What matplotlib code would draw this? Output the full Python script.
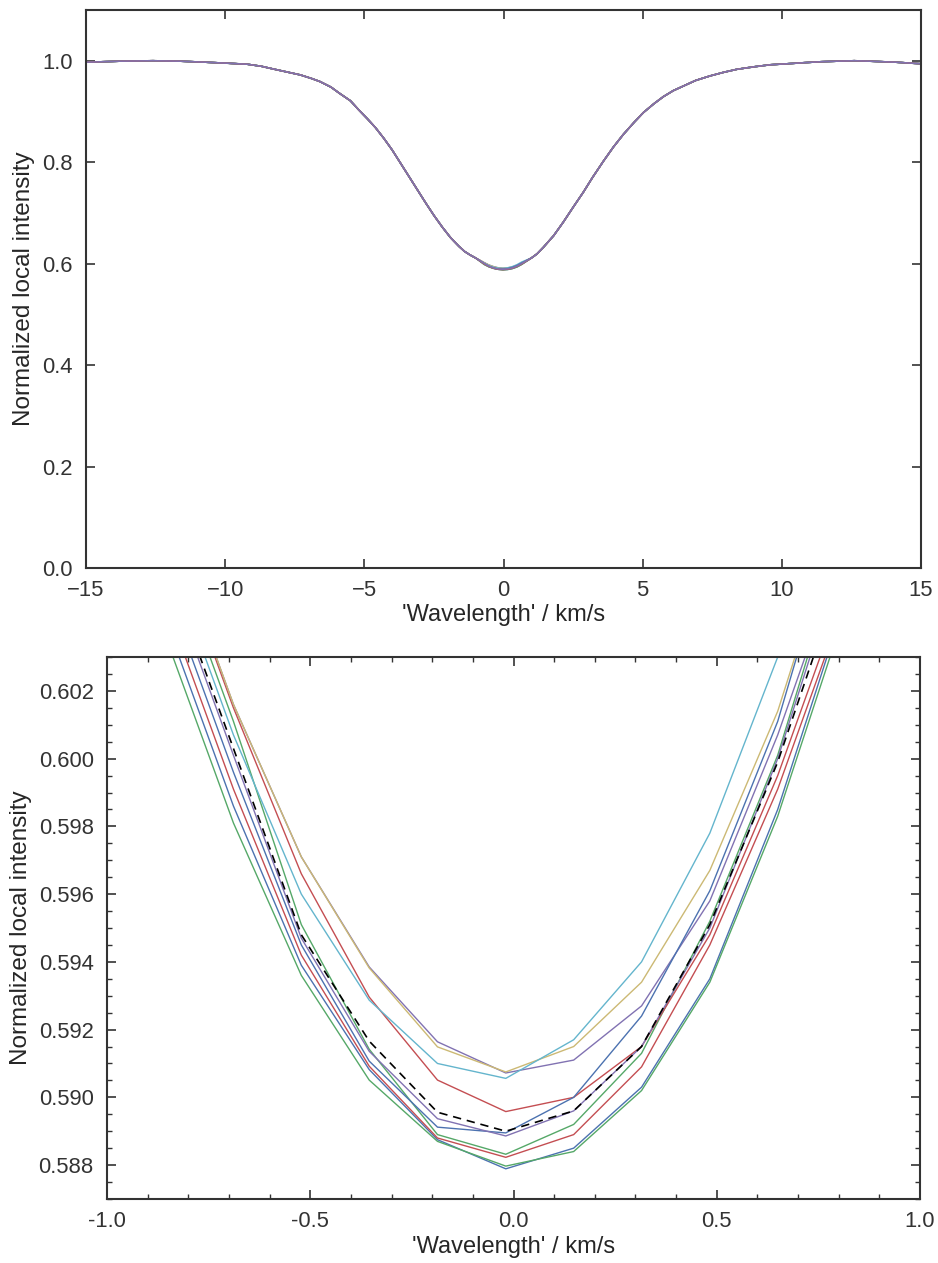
"""Local intensity line profiles: full profile (top) and zoom on the core (bottom)."""

import matplotlib

matplotlib.use("Agg")
import matplotlib.pyplot as plt
from matplotlib.ticker import FormatStrFormatter, MultipleLocator

# seaborn "deep" palette (old)
COLORS = ["#4C72B0", "#55A868", "#C44E52", "#8172B2", "#CCB974", "#64B5CD",
          "#4C72B0", "#55A868", "#C44E52", "#8172B2"]

# velocity grid of the line core (km/s)
x_core = [-0.856, -0.689, -0.522, -0.355, -0.187, -0.019, 0.148, 0.315, 0.483, 0.650, 0.817]

# core intensities for each of the ten profiles
core_profiles = [
    [0.6041, 0.5986, 0.5939, 0.59082, 0.58875, 0.58789, 0.5885, 0.5903, 0.5935, 0.5985, 0.6047],  # blue
    [0.6066, 0.6011, 0.5951, 0.59142, 0.58890, 0.58832, 0.5892, 0.5913, 0.5952, 0.6001, 0.6067],  # green
    [0.6070, 0.6015, 0.5966, 0.59296, 0.59051, 0.58958, 0.5900, 0.5915, 0.5948, 0.5995, 0.6051],  # red
    [0.6071, 0.6016, 0.5971, 0.59385, 0.59164, 0.59072, 0.5911, 0.5927, 0.5958, 0.6007, 0.6064],  # purple
    [0.6071, 0.6016, 0.5971, 0.59382, 0.59149, 0.59075, 0.5915, 0.5934, 0.5967, 0.6014, 0.6077],  # yellow
    [0.6062, 0.6007, 0.5960, 0.59287, 0.59100, 0.59056, 0.5917, 0.5940, 0.5978, 0.6030, 0.6092],  # cyan
    [0.6051, 0.5996, 0.5945, 0.59107, 0.58912, 0.58895, 0.5900, 0.5924, 0.5961, 0.6011, 0.6079],  # blue
    [0.6036, 0.5981, 0.5936, 0.59051, 0.58870, 0.58797, 0.5884, 0.5902, 0.5934, 0.5983, 0.6044],  # green
    [0.6046, 0.5991, 0.5942, 0.59092, 0.58880, 0.58823, 0.5889, 0.5909, 0.5945, 0.5991, 0.6047],  # red
    [0.6056, 0.6001, 0.5947, 0.59136, 0.58937, 0.58886, 0.5896, 0.5915, 0.5950, 0.6000, 0.6063],  # purple
]

# reference profile (black dashed)
core_reference = [0.6058, 0.6003, 0.5948, 0.59166, 0.58956, 0.58900, 0.5896, 0.5915, 0.5951, 0.5999, 0.6058]

# line wings, shared by all profiles
x_wing_left = [-15.0, -13.8, -12.6, -11.6, -10.7, -9.9, -9.2, -8.7, -8.3, -7.8, -7.3, -6.9, -6.6,
               -6.2, -5.9, -5.5, -5.2, -4.9, -4.6, -4.3, -4.0, -3.7, -3.4, -3.1, -2.8, -2.5,
               -2.2, -1.9, -1.6, -1.4, -1.2, -1.0]
wing_left = [0.997, 0.999, 1.000, 0.999, 0.997, 0.995, 0.993, 0.989, 0.984, 0.978, 0.972, 0.965, 0.959,
             0.948, 0.936, 0.921, 0.903, 0.886, 0.868, 0.847, 0.824, 0.798, 0.772, 0.746, 0.720, 0.695,
             0.672, 0.651, 0.634, 0.624, 0.617, 0.611]
x_wing_right = [1.0, 1.2, 1.43, 1.8, 2.15, 2.5, 2.87, 3.2, 3.59, 3.95, 4.31, 4.7, 5.03, 5.4, 5.74,
                6.1, 6.46, 6.9, 7.42, 7.9, 8.38, 9.0, 9.58, 10.2, 10.77, 11.4, 11.97, 12.6, 13.17,
                14.1, 15.0]
wing_right = [0.611, 0.619, 0.632, 0.655, 0.682, 0.711, 0.741, 0.770, 0.802, 0.830, 0.855, 0.879, 0.898,
              0.915, 0.929, 0.941, 0.950, 0.961, 0.970, 0.977, 0.983, 0.988, 0.992, 0.994, 0.996, 0.998,
              0.999, 1.000, 0.999, 0.997, 0.994]

plt.rcParams.update({
    "font.family": ["Liberation Sans", "DejaVu Sans"],
    "font.size": 15.5,
    "axes.edgecolor": "#333333",
    "axes.linewidth": 1.5,
    "xtick.color": "#333333",
    "ytick.color": "#333333",
    "text.color": "#262626",
    "axes.labelcolor": "#262626",
})


def style_axis(ax, minor=False):
    ax.tick_params(which="major", direction="in", length=6.5, width=1.2,
                   top=True, right=True, labelsize=15.8)
    ax.tick_params(axis="x", which="major", pad=8.5)
    ax.tick_params(axis="y", which="major", pad=9.5)
    if minor:
        ax.tick_params(which="minor", direction="in", length=3.5, width=1.0,
                       top=True, right=True)


fig = plt.figure(figsize=(9.38, 12.63), dpi=100)
ax_top = fig.add_axes([0.0917, 0.5503, 0.8902, 0.4418])
ax_bot = fig.add_axes([0.1141, 0.0507, 0.8667, 0.4291])

for prof, color in zip(core_profiles, COLORS):
    ax_top.plot(x_wing_left + x_core[1:-1] + x_wing_right,
                wing_left + prof[1:-1] + wing_right, color=color, lw=1.1)
ax_top.set_xlim(-15, 15)
ax_top.set_ylim(0.0, 1.1)
ax_top.set_xticks([-15, -10, -5, 0, 5, 10, 15])
ax_top.set_yticks([0.0, 0.2, 0.4, 0.6, 0.8, 1.0])
ax_top.set_xlabel("'Wavelength' / km/s", fontsize=17, labelpad=2)
ax_top.set_ylabel("Normalized local intensity", fontsize=17.5, labelpad=5)
style_axis(ax_top)

for prof, color in zip(core_profiles, COLORS):
    ax_bot.plot(x_core, prof, color=color, lw=1.0)
ax_bot.plot(x_core, core_reference, color="black", lw=1.2, ls=(0, (5, 3.5)))
ax_bot.set_xlim(-1.0, 1.0)
ax_bot.set_ylim(0.587, 0.603)
ax_bot.xaxis.set_major_locator(MultipleLocator(0.5))
ax_bot.xaxis.set_minor_locator(MultipleLocator(0.1))
ax_bot.yaxis.set_major_locator(MultipleLocator(0.002))
ax_bot.yaxis.set_minor_locator(MultipleLocator(0.0005))
ax_bot.xaxis.set_major_formatter(FormatStrFormatter("%.1f"))
ax_bot.yaxis.set_major_formatter(FormatStrFormatter("%.3f"))
ax_bot.set_xlabel("'Wavelength' / km/s", fontsize=17, labelpad=3)
ax_bot.set_ylabel("Normalized local intensity", fontsize=17.5, labelpad=5)
style_axis(ax_bot, minor=True)

fig.savefig("out.png", dpi=100)
